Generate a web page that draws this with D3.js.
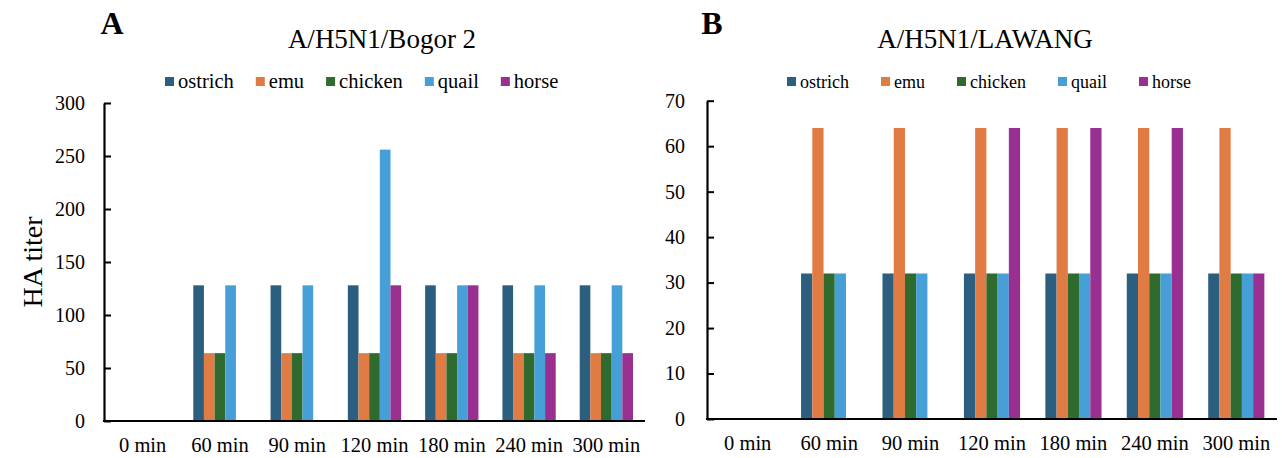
<!DOCTYPE html>
<html>
<head>
<meta charset="utf-8">
<script src="https://cdn.jsdelivr.net/npm/d3@7"></script>
<style>
  html, body { margin: 0; padding: 0; background: #ffffff; }
  svg { display: block; font-family: "Liberation Serif", "Times New Roman", serif; }
</style>
</head>
<body>
<svg id="chart" width="1282" height="458"></svg>
<script>
// ---- Data ----
const categories = ["0 min", "60 min", "90 min", "120 min", "180 min", "240 min", "300 min"];
const seriesNames = ["ostrich", "emu", "chicken", "quail", "horse"];
const seriesColors = ["#2c5e80", "#e07b43", "#2f6a2e", "#46a0d7", "#9a2f92"];

// Panel A: A/H5N1/Bogor 2
const bogorOstrich = [0, 128, 128, 128, 128, 128, 128];
const bogorEmu     = [0, 64, 64, 64, 64, 64, 64];
const bogorChicken = [0, 64, 64, 64, 64, 64, 64];
const bogorQuail   = [0, 128, 128, 256, 128, 128, 128];
const bogorHorse   = [0, 0, 0, 128, 128, 64, 64];
const bogorTicks   = [0, 50, 100, 150, 200, 250, 300];

// Panel B: A/H5N1/LAWANG
const lawangOstrich = [0, 32, 32, 32, 32, 32, 32];
const lawangEmu     = [0, 64, 64, 64, 64, 64, 64];
const lawangChicken = [0, 32, 32, 32, 32, 32, 32];
const lawangQuail   = [0, 32, 32, 32, 32, 32, 32];
const lawangHorse   = [0, 0, 0, 64, 64, 64, 32];
const lawangTicks   = [0, 10, 20, 30, 40, 50, 60, 70];

const svg = d3.select("#chart");

function drawPanel(cfg) {
  const g = svg.append("g");
  const x = d3.scaleBand().domain(categories).range([cfg.left, cfg.right]).paddingInner(0).paddingOuter(0);
  const groupW = x.bandwidth() / 1.45;
  const xs = d3.scaleBand().domain(seriesNames).range([0, groupW]).padding(0);
  const y = d3.scaleLinear().domain([0, cfg.max]).range([cfg.bottom, cfg.top]);

  // bars
  cfg.series.forEach((vals, si) => {
    g.append("g").selectAll("rect")
      .data(vals.map((v, i) => ({cat: categories[i], v})).filter(d => d.v > 0))
      .join("rect")
      .attr("x", d => x(d.cat) + (x.bandwidth() - groupW) / 2 + xs(seriesNames[si]))
      .attr("width", xs.bandwidth())
      .attr("y", d => y(d.v))
      .attr("height", d => y(0) - y(d.v))
      .attr("fill", seriesColors[si]);
  });

  // y axis
  const yAxis = d3.axisLeft(y).tickValues(cfg.ticks).tickSizeInner(-7).tickSizeOuter(0).tickPadding(cfg.tickPad);
  const ya = g.append("g").attr("transform", `translate(${cfg.left},0)`).call(yAxis);
  ya.select(".domain").attr("stroke", "#000").attr("stroke-width", 2.2);
  ya.selectAll(".tick line").attr("stroke", "#000").attr("stroke-width", 2);
  ya.selectAll(".tick text").attr("font-size", 20).attr("fill", "#000")
    .attr("font-family", "'Liberation Serif', 'Times New Roman', serif");

  // x axis line
  g.append("line").attr("x1", cfg.left - 1).attr("x2", cfg.right)
    .attr("y1", y(0)).attr("y2", y(0)).attr("stroke", "#000").attr("stroke-width", 2.2);
  // category labels
  g.append("g").selectAll("text").data(categories).join("text")
    .attr("x", d => x(d) + x.bandwidth() / 2)
    .attr("y", cfg.labelY)
    .attr("text-anchor", "middle")
    .attr("font-size", 20.5)
    .text(d => d);

  // title
  g.append("text").attr("x", cfg.titleX).attr("y", 48).attr("text-anchor", "middle")
    .attr("font-size", 27).text(cfg.title);
  // panel letter
  g.append("text").attr("x", cfg.letterX).attr("y", 34).attr("text-anchor", "middle")
    .attr("font-size", 32).attr("font-weight", "bold").text(cfg.letter);

  // legend
  const lg = g.append("g");
  let cx = cfg.legendX;
  seriesNames.forEach((name, i) => {
    lg.append("rect").attr("x", cx).attr("y", 77).attr("width", 9).attr("height", 9).attr("fill", seriesColors[i]);
    const t = lg.append("text").attr("x", cx + 13).attr("y", 88).attr("font-size", cfg.legendFont).text(name);
    const w = t.node().getComputedTextLength();
    cx += 13 + w + cfg.legendGap;
  });
}

drawPanel({
  left: 104, right: 645, top: 103, bottom: 421, max: 300, ticks: bogorTicks, tickPad: 19,
  series: [bogorOstrich, bogorEmu, bogorChicken, bogorQuail, bogorHorse],
  labelY: 452, title: "A/H5N1/Bogor 2", titleX: 382, letter: "A", letterX: 112,
  legendX: 165, legendFont: 20.5, legendGap: 22
});

drawPanel({
  left: 707, right: 1277, top: 100.7, bottom: 419, max: 70, ticks: lawangTicks, tickPad: 22,
  series: [lawangOstrich, lawangEmu, lawangChicken, lawangQuail, lawangHorse],
  labelY: 450, title: "A/H5N1/LAWANG", titleX: 985, letter: "B", letterX: 712,
  legendX: 787, legendFont: 18, legendGap: 32
});

// y axis title
svg.append("text")
  .attr("transform", "translate(42,262) rotate(-90)")
  .attr("text-anchor", "middle")
  .attr("font-size", 28)
  .text("HA titer");
</script>
</body>
</html>
